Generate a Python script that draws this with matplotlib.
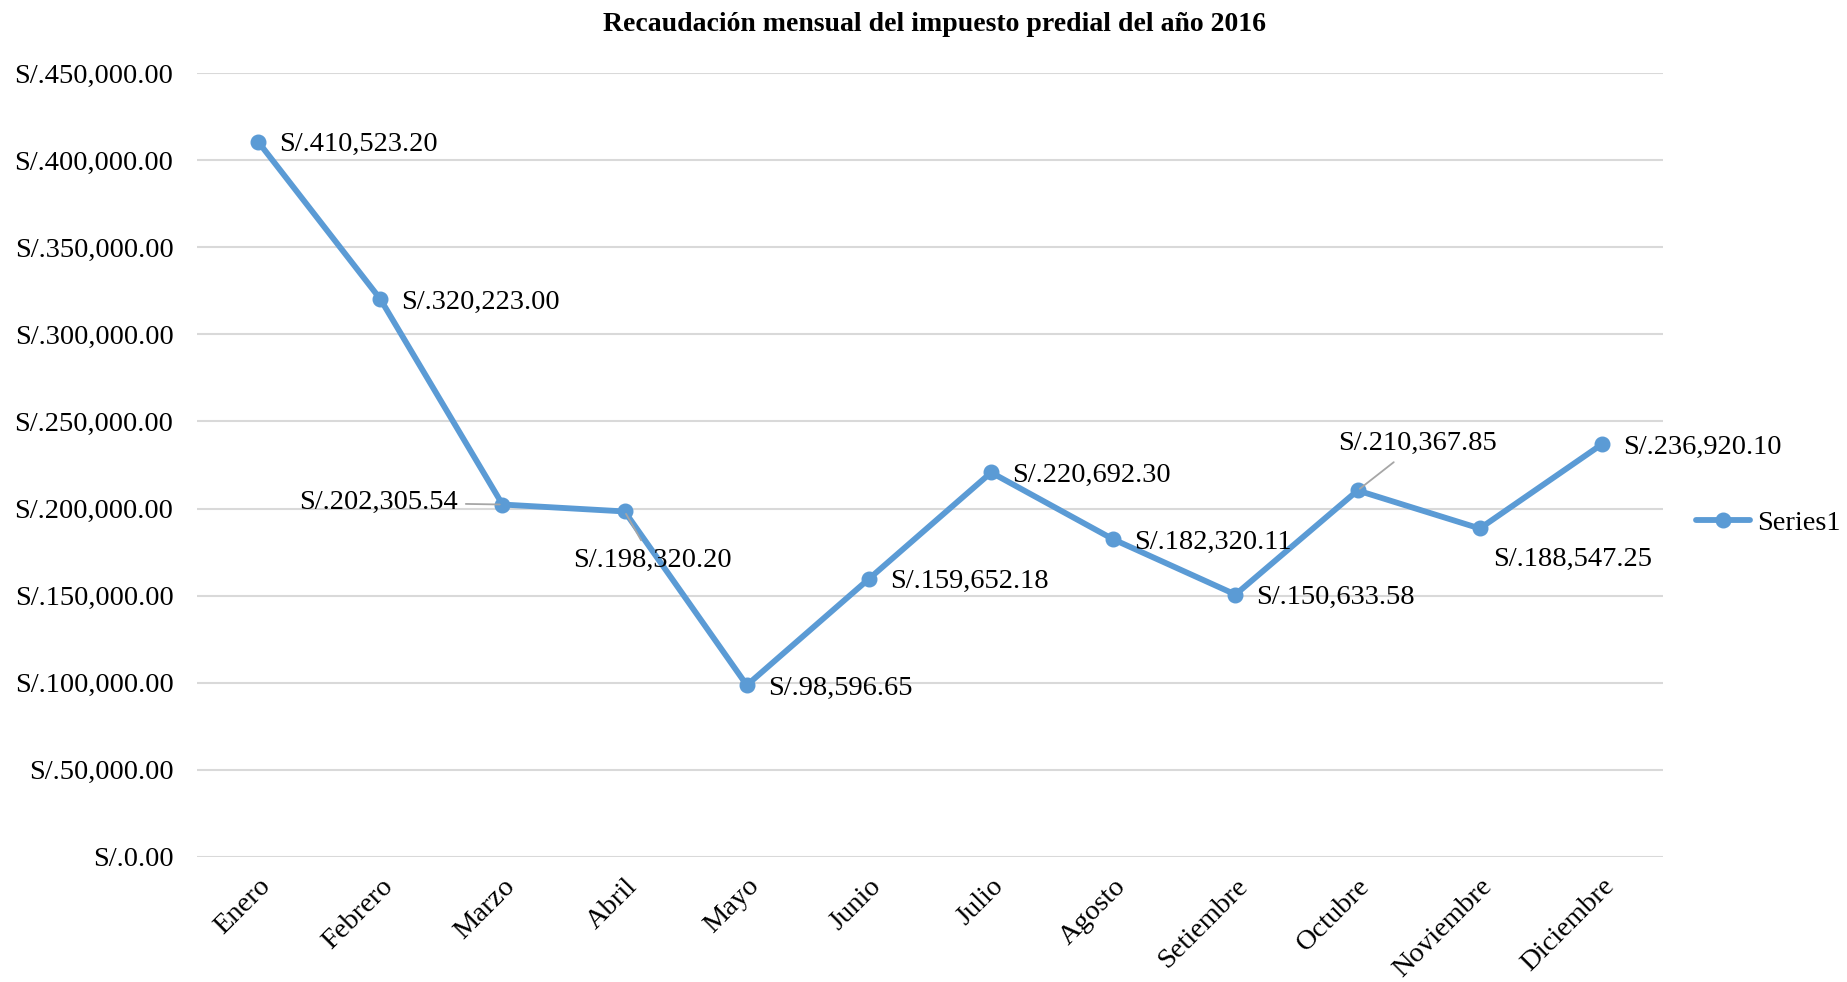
import matplotlib
matplotlib.use("Agg")
import matplotlib.pyplot as plt
from matplotlib.ticker import FuncFormatter, MultipleLocator

meses = ["Enero", "Febrero", "Marzo", "Abril", "Mayo", "Junio", "Julio",
         "Agosto", "Setiembre", "Octubre", "Noviembre", "Diciembre"]
recaudacion = [410523.20, 320223.00, 202305.54, 198320.20, 98596.65, 159652.18,
               220692.30, 182320.11, 150633.58, 210367.85, 188547.25, 236920.10]

plt.rcParams["font.family"] = ["Liberation Serif", "DejaVu Serif"]

fig = plt.figure(figsize=(18.47, 9.82), dpi=100)
ax = fig.add_axes([0.1067, 0.1273, 0.7937, 0.7984])

x = list(range(len(meses)))
ax.plot(x, recaudacion, color="#5B9BD5", lw=4.2, marker="o", ms=10.5,
        label="Series1", solid_capstyle="round", zorder=3)

ax.set_xlim(-0.5, len(meses) - 0.5)
ax.set_ylim(0, 450000)
ax.yaxis.set_major_locator(MultipleLocator(50000))
ax.yaxis.set_major_formatter(FuncFormatter(lambda v, p: "S/.{:,.2f}".format(v)))
ax.grid(axis="y", color="#D9D9D9", lw=1.5)
ax.set_axisbelow(True)
for s in ax.spines.values():
    s.set_visible(False)
ax.tick_params(axis="y", length=0, pad=17, labelsize=20.5)
ax.tick_params(axis="x", length=0, pad=12, labelsize=20.5)
ax.set_xticks(x)
ax.set_xticklabels(meses, rotation=45, ha="right", rotation_mode="anchor")

# label offsets in pixels (dx, dy, ha)
offsets = {2: (-45, 2, "right"), 3: (28, -49, "center"),
           9: (60, 47, "center"), 10: (13, -31, "left")}
leaders = {2, 3, 9}
for i, v in enumerate(recaudacion):
    dx, dy, ha = offsets.get(i, (21, -3, "left"))
    kw = {}
    if i in leaders:
        kw["arrowprops"] = dict(arrowstyle="-", color="#A6A6A6", lw=1.3,
                                shrinkA=4, shrinkB=2)
    ax.annotate("S/.{:,.2f}".format(v), (i, v), xytext=(dx, dy),
                textcoords="offset pixels", ha=ha, va="center",
                fontsize=20.5, zorder=4, **kw)

fig.text(0.506, 0.975, "Recaudación mensual del impuesto predial del año 2016",
         ha="center", va="center", fontsize=20, fontweight="bold")

fig.legend(loc="center left", bbox_to_anchor=(0.918, 1 - 523 / 982),
           frameon=False, fontsize=20.5, handlelength=1.9, handletextpad=0.25,
           borderaxespad=0, borderpad=0)

fig.savefig("out.png", dpi=100)
